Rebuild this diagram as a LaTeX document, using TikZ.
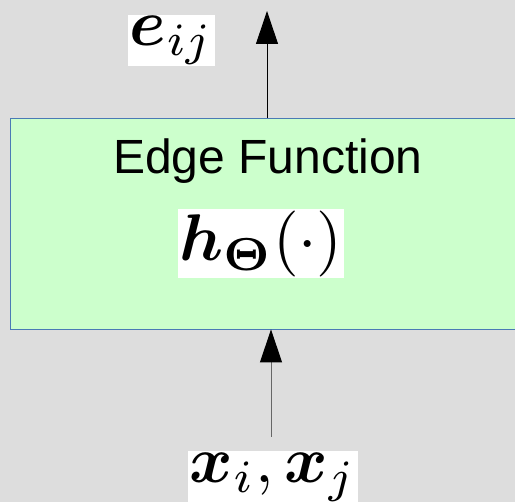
\documentclass[tikz,border=0pt]{standalone}
\usepackage{amsmath,amssymb,bm}
\usepackage{graphicx}
\usepackage{fontspec}
\setsansfont{Liberation Sans}
\usetikzlibrary{positioning,arrows.meta}

\definecolor{canvas}{RGB}{221,221,221}
\definecolor{boxfill}{RGB}{204,255,204}
\definecolor{boxline}{RGB}{74,122,181}
\newcommand{\symtext}[1]{\scalebox{6.6}{$#1$}}

\begin{document}
\begin{tikzpicture}[
  x=1pt, y=-1pt,
  block/.style={rectangle, draw=boxline, line width=0.9pt, fill=boxfill,
                minimum width=520pt, minimum height=211pt, inner sep=0pt},
  title/.style={font=\sffamily\fontsize{48}{48}\selectfont, inner sep=0pt},
  sym/.style={fill=white, inner sep=1.5pt},
  flow/.style={-{Triangle[length=33pt,width=22pt,color=black]}, line width=1pt}
]
% ── canvas ───────────────────────────────────────────────────────────────────
\fill[canvas] (0,0) rectangle (515,502);
\useasboundingbox (0,0) rectangle (515,502);

% ── block ────────────────────────────────────────────────────────────────────
\node[block] (fn) at (270,223.5) {};
\node[title] (name) at (268,161) {Edge Function};
\node[sym] (hfun) at (261,244) {\symtext{\bm{h}_{\bm{\Theta}}(\cdot)}};

% ── in / out ─────────────────────────────────────────────────────────────────
\node[sym] (eij) at (171.5,40.5) {\symtext{\bm{e}_{ij}}};
\node[sym] (xij) at (273,477) {\symtext{\bm{x}_i, \bm{x}_j}};
\coordinate (top) at (267,11);
\coordinate (src) at (271,437);

\draw[flow] (top |- fn.north) -- (top);
\draw[flow, draw=black!60] (src) -- (src |- fn.south);
\end{tikzpicture}
\end{document}
